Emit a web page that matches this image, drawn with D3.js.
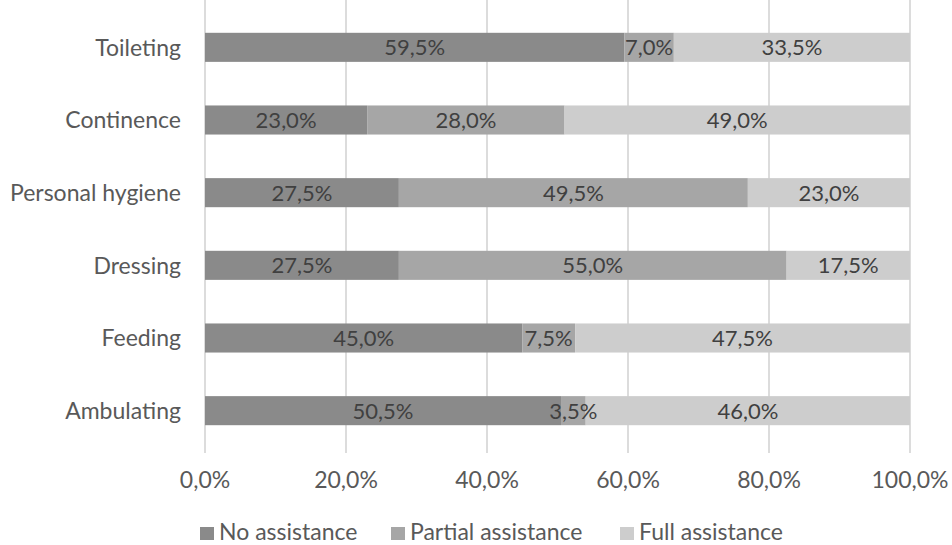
<!DOCTYPE html>
<html>
<head>
<meta charset="utf-8">
<script src="https://cdn.jsdelivr.net/npm/d3@7"></script>
<style>
  body { margin: 0; background: #fff; }
  svg text { font-family: Lato, "Open Sans", sans-serif; fill: #595959; }
</style>
</head>
<body>
<div id="chart"></div>
<script>
const categories = ["Toileting", "Continence", "Personal hygiene", "Dressing", "Feeding", "Ambulating"];
const seriesNames = ["No assistance", "Partial assistance", "Full assistance"];
const noAssistance = [59.5, 23.0, 27.5, 27.5, 45.0, 50.5];
const partialAssistance = [7.0, 28.0, 49.5, 55.0, 7.5, 3.5];
const fullAssistance = [33.5, 49.0, 23.0, 17.5, 47.5, 46.0];
const xTicks = [0, 20, 40, 60, 80, 100];
const colors = ["#8a8a8a", "#a6a6a6", "#cdcdcd"];

const width = 952, height = 545;
const margin = { top: 11, right: 42, bottom: 98, left: 205 };

const svg = d3.select("#chart").append("svg")
  .attr("width", width)
  .attr("height", height);

const x = d3.scaleLinear().domain([0, 100]).range([margin.left, width - margin.right]);
const y = d3.scaleBand().domain(categories).range([margin.top, height - margin.bottom]).paddingInner(0.6).paddingOuter(0.3);

const fmt = v => v.toFixed(1).replace(".", ",") + "%";

// gridlines
svg.append("g").selectAll("line")
  .data(xTicks)
  .join("line")
  .attr("x1", d => x(d)).attr("x2", d => x(d))
  .attr("y1", 0).attr("y2", 453)
  .attr("stroke", "#d0d0d0")
  .attr("stroke-width", 1.5);

// stacked data
const rows = categories.map((c, i) => ({
  cat: c,
  vals: [noAssistance[i], partialAssistance[i], fullAssistance[i]]
}));
const segs = [];
rows.forEach(r => {
  let acc = 0;
  r.vals.forEach((v, k) => {
    segs.push({ cat: r.cat, k: k, v: v, x0: acc, x1: acc + v });
    acc += v;
  });
});

svg.append("g").selectAll("rect")
  .data(segs)
  .join("rect")
  .attr("x", d => x(d.x0))
  .attr("y", d => y(d.cat))
  .attr("width", d => x(d.x1) - x(d.x0))
  .attr("height", y.bandwidth())
  .attr("fill", d => colors[d.k]);

svg.append("g").selectAll("text")
  .data(segs)
  .join("text")
  .attr("x", d => (x(d.x0) + x(d.x1)) / 2)
  .attr("y", d => y(d.cat) + y.bandwidth() / 2)
  .attr("dy", "0.36em")
  .attr("text-anchor", "middle")
  .style("font-size", "22px")
  .style("fill", "#404040")
  .text(d => fmt(d.v));

// category labels
svg.append("g").selectAll("text")
  .data(categories)
  .join("text")
  .attr("x", margin.left - 24)
  .attr("y", d => y(d) + y.bandwidth() / 2)
  .attr("dy", "0.36em")
  .attr("text-anchor", "end")
  .style("font-size", "23px")
  .text(d => d);

// x tick labels
svg.append("g").selectAll("text")
  .data(xTicks)
  .join("text")
  .attr("x", d => x(d))
  .attr("y", 488)
  .attr("text-anchor", "middle")
  .style("font-size", "23px")
  .text(d => d.toFixed(1).replace(".", ",") + "%");

// legend
const legendX = [200, 391, 620];
const lg = svg.append("g").selectAll("g")
  .data(seriesNames)
  .join("g")
  .attr("transform", (d, i) => `translate(${legendX[i]},540)`);
lg.append("rect")
  .attr("x", 0).attr("y", -13)
  .attr("width", 14).attr("height", 13)
  .attr("fill", (d, i) => colors[i]);
lg.append("text")
  .attr("x", 19).attr("y", 0)
  .style("font-size", "23px")
  .text(d => d);
</script>
</body>
</html>
